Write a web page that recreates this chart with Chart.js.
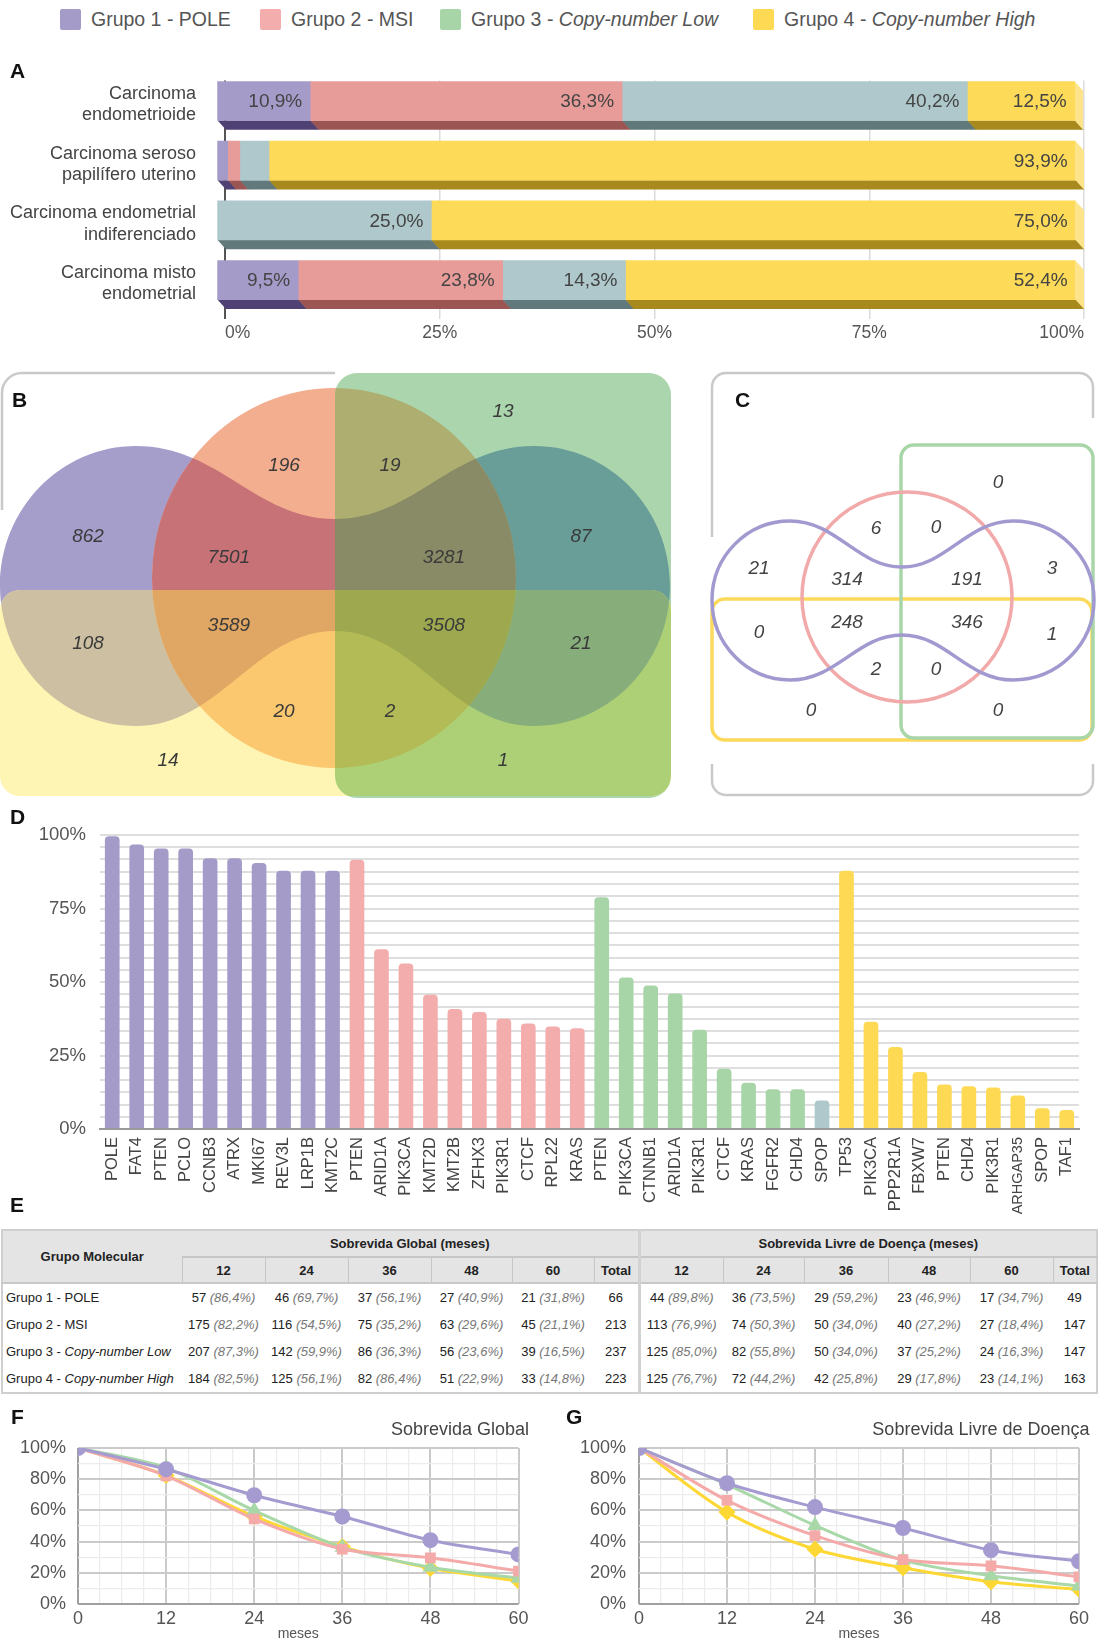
<!DOCTYPE html>
<html lang="pt">
<head>
<meta charset="utf-8">
<title>Grupos moleculares do carcinoma endometrial</title>
<script src="https://cdn.jsdelivr.net/npm/chart.js@4.4.1/dist/chart.umd.min.js"></script>
<style>
  html, body { margin: 0; padding: 0; background: #fff; }
  body { position: relative; width: 1100px; height: 1643px; overflow: hidden;
         font-family: 'Liberation Sans', Arial, Helvetica, sans-serif; color: #444; }
  canvas { position: absolute; }
  .letter { position: absolute; z-index: 3; font-weight: bold; font-size: 21px; line-height: 21px; color: #111; }
  #legend .item { position: absolute; top: 9px; height: 21px; }
  #legend .swatch { position: absolute; left: 0; top: 0; width: 21px; height: 21px; border-radius: 2px; }
  #legend .text { position: absolute; left: 31px; top: 0; font-size: 19.5px; line-height: 21px; color: #555; white-space: nowrap; }
  #tableE { position: absolute; left: 1px; top: 1229px; width: 1095px; border-collapse: collapse; table-layout: fixed;
            font-size: 13px; color: #222; border: 2px solid #cfcfcf; background: #fff; }
  #tableE th { background: #e4e4e4; font-weight: bold; text-align: center; padding: 0; color: #222; }
  #tableE tr.h1 th { height: 25px; }
  #tableE tr.h2 th { height: 24px; border-top: 2px solid #c6c6c6; border-left: 1px solid #c6c6c6; }
  #tableE thead { border-bottom: 2px solid #c8c8c8; }
  #tableE td { height: 27px; text-align: center; padding: 0; white-space: nowrap; }
  #tableE td.name { text-align: left; padding-left: 3px; }
  #tableE .sep { border-left: 3px solid #d2d2d2 !important; }
  #tableE i.p { color: #777; }
</style>
</head>
<body>
<div id="legend"></div>

<canvas id="chartA" width="1100" height="290" style="left:0;top:55px"></canvas>
<canvas id="chartB" width="690" height="450" style="left:0;top:360px"></canvas>
<canvas id="chartC" width="410" height="450" style="left:690px;top:360px"></canvas>
<canvas id="chartD" width="1100" height="425" style="left:0;top:800px"></canvas>
<table id="tableE"></table>
<canvas id="chartF" width="550" height="243" style="left:0;top:1400px"></canvas>
<canvas id="chartG" width="550" height="243" style="left:550px;top:1400px"></canvas>

<div class="letter" style="left:10px;top:60px">A</div>
<div class="letter" style="left:12px;top:389px">B</div>
<div class="letter" style="left:735px;top:389px">C</div>
<div class="letter" style="left:10px;top:806px">D</div>
<div class="letter" style="left:10px;top:1194px">E</div>
<div class="letter" style="left:11px;top:1406px">F</div>
<div class="letter" style="left:566px;top:1406px">G</div>

<script>
// ---------- data ----------
const groupNames = ['Grupo 1 - POLE', 'Grupo 2 - MSI', 'Grupo 3 - Copy-number Low', 'Grupo 4 - Copy-number High'];

// A: share of each molecular group within each histological type (%)
const histotypes = [['Carcinoma', 'endometrioide'], ['Carcinoma seroso', 'papilífero uterino'],
                    ['Carcinoma endometrial', 'indiferenciado'], ['Carcinoma misto', 'endometrial']];
const sharePOLE   = [10.9, 1.3, 0, 9.5];
const shareMSI    = [36.3, 1.4, 0, 23.8];
const shareCNLow  = [40.2, 3.4, 25.0, 14.3];
const shareCNHigh = [12.5, 93.9, 75.0, 52.4];
const shareTicks  = [0, 25, 50, 75, 100];

// B and C: Venn region counts, index = membership mask - 1
// (bit 0 = Grupo 1, bit 1 = Grupo 2, bit 2 = Grupo 3, bit 3 = Grupo 4)
const vennMasks   = [1, 2, 3, 4, 5, 6, 7, 8, 9, 10, 11, 12, 13, 14, 15];
const vennBCounts = [862, 196, 7501, 13, 87, 19, 3281, 14, 108, 20, 3589, 1, 21, 2, 3508];
const vennCCounts = [21, 6, 314, 0, 3, 0, 191, 0, 0, 2, 248, 0, 1, 0, 346];

// D: most frequently mutated genes per group (%)
const geneLabels = ['POLE', 'FAT4', 'PTEN', 'PCLO', 'CCNB3', 'ATRX', 'MKI67', 'REV3L', 'LRP1B', 'KMT2C',
                    'PTEN', 'ARID1A', 'PIK3CA', 'KMT2D', 'KMT2B', 'ZFHX3', 'PIK3R1', 'CTCF', 'RPL22', 'KRAS',
                    'PTEN', 'PIK3CA', 'CTNNB1', 'ARID1A', 'PIK3R1', 'CTCF', 'KRAS', 'FGFR2', 'CHD4', 'SPOP',
                    'TP53', 'PIK3CA', 'PPP2R1A', 'FBXW7', 'PTEN', 'CHD4', 'PIK3R1', 'ARHGAP35', 'SPOP', 'TAF1'];
const geneFreq = [99.6, 96.8, 95.4, 95.4, 92.1, 92.1, 90.5, 87.8, 87.8, 87.8,
                  91.6, 61.1, 56.3, 45.7, 40.8, 39.8, 37.5, 35.9, 34.9, 34.3,
                  78.8, 51.5, 48.8, 46.1, 33.8, 20.5, 15.7, 13.5, 13.5, 9.7,
                  87.8, 36.5, 27.9, 19.4, 15.1, 14.5, 14.1, 11.4, 7.1, 6.5];
const geneGroup = [1, 1, 1, 1, 1, 1, 1, 1, 1, 1,
                   2, 2, 2, 2, 2, 2, 2, 2, 2, 2,
                   3, 3, 3, 3, 3, 3, 3, 3, 3, 3,
                   4, 4, 4, 4, 4, 4, 4, 4, 4, 4];
const freqTicks = [0, 25, 50, 75, 100];

// E: survival table
const survMonths = [12, 24, 36, 48, 60];
const osCounts = [[57, 46, 37, 27, 21], [175, 116, 75, 63, 45], [207, 142, 86, 56, 39], [184, 125, 82, 51, 33]];
const osPct    = [[86.4, 69.7, 56.1, 40.9, 31.8], [82.2, 54.5, 35.2, 29.6, 21.1], [87.3, 59.9, 36.3, 23.6, 16.5], [82.5, 56.1, 86.4, 22.9, 14.8]];
const osTotal  = [66, 213, 237, 223];
const dfsCounts = [[44, 36, 29, 23, 17], [113, 74, 50, 40, 27], [125, 82, 50, 37, 24], [125, 72, 42, 29, 23]];
const dfsPct    = [[89.8, 73.5, 59.2, 46.9, 34.7], [76.9, 50.3, 34.0, 27.2, 18.4], [85.0, 55.8, 34.0, 25.2, 16.3], [76.7, 44.2, 25.8, 17.8, 14.1]];
const dfsTotal  = [49, 147, 147, 163];

// F and G: survival curves (%)
const curveMonths = [0, 12, 24, 36, 48, 60];
const osCurves  = [[100, 86.4, 69.7, 56.1, 40.9, 31.8], [100, 82.2, 54.5, 35.2, 29.6, 21.1],
                   [100, 87.3, 59.9, 36.3, 23.6, 16.5], [100, 82.5, 56.1, 36.8, 22.9, 14.8]];
const dfsCurves = [[100, 77.4, 62.1, 48.7, 34.5, 27.4], [100, 66.4, 43.8, 28.5, 24.5, 17.4],
                   [100, 76.6, 50.4, 28.1, 18.1, 11.5], [100, 58.9, 35.1, 23.2, 14.3, 9.4]];

// ---------- styles ----------
const groupColors = ['#a59bc9', '#f4adad', '#a8d5a8', '#fdd954'];
const typeFront   = ['#a59bc9', '#e89c99', '#aec8cc', '#fdda57'];
const typeShade   = ['#4f4173', '#9b5654', '#62797b', '#a8891d'];
const typeSide    = '#fde48a';
const lineColors  = ['#a59bd0', '#f5aaaa', '#a8d8a8', '#fdd835'];
const markerStyle = ['circle', 'rect', 'triangle', 'rectRot'];
const markerSize  = [6.5, 5.5, 6, 6.5];

Chart.defaults.font.family = "'Liberation Sans', Arial, Helvetica, sans-serif";
Chart.defaults.color = '#555';
Chart.defaults.animation = false;
Chart.defaults.responsive = false;
Chart.defaults.plugins.legend.display = false;
Chart.defaults.plugins.tooltip.enabled = false;

const pctText = v => v.toFixed(1).replace('.', ',') + '%';
// keep tick-label overflow from shrinking the plot area
const noScalePadding = s => { s.paddingTop = 0; s.paddingBottom = 0; s.paddingLeft = 0; s.paddingRight = 0; };

// ---------- legend ----------
(function buildLegend() {
  const lefts = [60, 260, 440, 753];
  const box = document.getElementById('legend');
  groupNames.forEach((name, i) => {
    const item = document.createElement('div');
    item.className = 'item';
    item.style.left = lefts[i] + 'px';
    const sw = document.createElement('div');
    sw.className = 'swatch';
    sw.style.background = groupColors[i];
    const tx = document.createElement('div');
    tx.className = 'text';
    const cut = name.indexOf('Copy-number');
    if (cut >= 0) {
      tx.textContent = name.slice(0, cut);
      const it = document.createElement('i');
      it.textContent = name.slice(cut);
      tx.appendChild(it);
    } else {
      tx.textContent = name;
    }
    item.appendChild(sw);
    item.appendChild(tx);
    box.appendChild(item);
  });
})();

// ---------- A: stacked 3D bars ----------
function depthPlugin(dx, dy) {
  return {
    id: 'depth3d',
    beforeDatasetsDraw(chart) {
      const ctx = chart.ctx;
      const n = chart.data.datasets.length;
      chart.data.datasets.forEach((ds, di) => {
        const meta = chart.getDatasetMeta(di);
        meta.data.forEach((bar, i) => {
          if (!ds.data[i]) return;
          const p = bar.getProps(['x', 'base', 'y', 'height'], true);
          const left = Math.min(p.x, p.base), right = Math.max(p.x, p.base);
          const top = p.y - p.height / 2, bottom = p.y + p.height / 2;
          ctx.fillStyle = typeShade[di];
          ctx.beginPath();
          ctx.moveTo(left - dx, bottom - dy);
          ctx.lineTo(right - dx + 0.5, bottom - dy);
          ctx.lineTo(right + 0.5, bottom);
          ctx.lineTo(left, bottom);
          ctx.closePath();
          ctx.fill();
          if (di === n - 1) {
            ctx.fillStyle = typeSide;
            ctx.beginPath();
            ctx.moveTo(right - dx, top - dy);
            ctx.lineTo(right, top);
            ctx.lineTo(right, bottom);
            ctx.lineTo(right - dx, bottom - dy);
            ctx.closePath();
            ctx.fill();
          }
        });
      });
      ctx.save();
      ctx.translate(-dx, -dy);
    },
    afterDatasetsDraw(chart) {
      const ctx = chart.ctx;
      ctx.restore();
      ctx.save();
      ctx.font = "19px 'Liberation Sans', Arial, sans-serif";
      ctx.fillStyle = '#444';
      ctx.textAlign = 'right';
      ctx.textBaseline = 'middle';
      chart.data.datasets.forEach((ds, di) => {
        chart.getDatasetMeta(di).data.forEach((bar, i) => {
          const v = ds.data[i];
          if (v < 5) return;
          const p = bar.getProps(['x', 'y'], true);
          ctx.fillText(pctText(v), p.x - dx - 8, p.y - dy + 1);
        });
      });
      ctx.restore();
    }
  };
}

new Chart(document.getElementById('chartA'), {
  type: 'bar',
  data: {
    labels: histotypes,
    datasets: [sharePOLE, shareMSI, shareCNLow, shareCNHigh].map((vals, i) => ({
      label: groupNames[i], data: vals, backgroundColor: typeFront[i], barThickness: 39, borderWidth: 0,
      inflateAmount: c => (c.raw ? 0.33 : 0)
    }))
  },
  options: {
    indexAxis: 'y',
    layout: { padding: { top: 25.5, right: 16, left: 0, bottom: 0 } },
    scales: {
      x: {
        stacked: true, min: 0, max: 100,
        border: { display: false },
        grid: {
          drawTicks: false,
          color: c => c.tick.value === 0 ? '#555' : '#dcdcdc',
          lineWidth: c => c.tick.value === 0 ? 2 : 1.5
        },
        afterBuildTicks: s => { s.ticks = shareTicks.map(v => ({ value: v })); },
        ticks: { callback: v => v + '%', align: 'inner', padding: 3, color: '#555', font: { size: 17.5 }, maxRotation: 0, autoSkip: false },
        afterFit: s => { s.height = 25.6; noScalePadding(s); }
      },
      y: {
        stacked: true,
        border: { display: false },
        grid: { display: false, drawTicks: false },
        ticks: { color: '#444', font: { size: 18, lineHeight: 1.17 }, padding: 29, labelOffset: -5.8, autoSkip: false },
        afterFit: s => { s.width = 225; noScalePadding(s); }
      }
    }
  },
  plugins: [depthPlugin(8.4, 9.4)]
});

// ---------- B and C: Venn diagrams ----------
function roundRectPath(m, x0, y0, x1, y1, r) {
  const a = m(x0, y0), b = m(x1, y1);
  const l = a[0], t = a[1], rr = b[0], bb = b[1];
  const p = new Path2D();
  p.moveTo(l + r, t);
  p.arcTo(rr, t, rr, bb, r);
  p.arcTo(rr, bb, l, bb, r);
  p.arcTo(l, bb, l, t, r);
  p.arcTo(l, t, rr, t, r);
  p.closePath();
  return p;
}
function ellipsePath(m, cx, cy, rx, ry) {
  const c = m(cx, cy);
  const p = new Path2D();
  p.ellipse(c[0], c[1], rx, ry, 0, 0, Math.PI * 2);
  return p;
}
function dumbbellPath(m, g) {
  const { L, R, cy, T, B, M, WT, WB, lx, rx } = g;
  const k = 0.5523;
  const s1 = (M - lx) * 0.42, s2 = (M - lx) * 0.4;
  const s1r = (rx - M) * 0.42, s2r = (rx - M) * 0.4;
  const p = new Path2D();
  const mv = (x, y) => { const q = m(x, y); p.moveTo(q[0], q[1]); };
  const cb = (x1, y1, x2, y2, x, y) => {
    const a = m(x1, y1), b = m(x2, y2), c = m(x, y);
    p.bezierCurveTo(a[0], a[1], b[0], b[1], c[0], c[1]);
  };
  mv(L, cy);
  cb(L, cy - (cy - T) * k, lx - (lx - L) * k, T, lx, T);
  cb(lx + s1, T, M - s2, WT, M, WT);
  cb(M + s2r, WT, rx - s1r, T, rx, T);
  cb(rx + (R - rx) * k, T, R, cy - (cy - T) * k, R, cy);
  cb(R, cy + (B - cy) * k, rx + (R - rx) * k, B, rx, B);
  cb(rx - s1r, B, M + s2r, WB, M, WB);
  cb(M - s2, WB, lx + s1, B, lx, B);
  cb(lx - (lx - L) * k, B, L, cy + (B - cy) * k, L, cy);
  p.closePath();
  return p;
}
function vennPlugin(paint, font, color) {
  return {
    id: 'vennShapes',
    beforeDatasetsDraw(chart) {
      const m = (x, y) => [chart.scales.x.getPixelForValue(x), chart.scales.y.getPixelForValue(y)];
      chart.ctx.save();
      paint(chart.ctx, m, chart);
      chart.ctx.restore();
    },
    afterDatasetsDraw(chart) {
      const ctx = chart.ctx;
      const ds = chart.data.datasets[0];
      ctx.save();
      ctx.font = font;
      ctx.fillStyle = color;
      ctx.textAlign = 'center';
      ctx.textBaseline = 'middle';
      chart.getDatasetMeta(0).data.forEach((pt, i) => ctx.fillText(String(ds.data[i].n), pt.x, pt.y));
      ctx.restore();
    }
  };
}
function vennChart(id, counts, spots, xRange, yRange, plugin) {
  return new Chart(document.getElementById(id), {
    type: 'scatter',
    data: {
      datasets: [{
        data: vennMasks.map((mask, i) => ({ x: spots[mask][0], y: spots[mask][1], n: counts[i] })),
        pointRadius: 0
      }]
    },
    options: {
      layout: { padding: 0 },
      scales: {
        x: { type: 'linear', min: xRange[0], max: xRange[1], display: false },
        y: { type: 'linear', min: yRange[0], max: yRange[1], reverse: true, display: false }
      }
    },
    plugins: [plugin]
  });
}

// label anchors (page coordinates) for each membership region
const vennBSpots = { 4: [503, 412], 2: [284, 466], 6: [390, 466], 1: [88, 537], 3: [229, 558], 7: [444, 558],
  5: [581, 537], 9: [88, 644], 11: [229, 626], 15: [444, 626], 13: [581, 644], 10: [284, 712], 14: [390, 712],
  8: [168, 761], 12: [503, 761] };
const vennCSpots = { 4: [998, 483], 2: [876, 529], 6: [936, 528], 1: [759, 569], 3: [847, 580], 7: [967, 580],
  5: [1052, 569], 9: [759, 633], 11: [847, 623], 15: [967, 623], 13: [1052, 635], 10: [876, 670], 14: [936, 670],
  8: [811, 711], 12: [998, 711] };

const vennBFill = { 1: '#a59dca', 2: '#f3ad8f', 3: '#c77277', 4: '#abd5ad', 5: '#689d98', 6: '#adae6f', 7: '#898b67',
  8: '#fef5b4', 9: '#cdbfa2', 10: '#fbc870', 11: '#dfa664', 12: '#add077', 13: '#87ae7a', 14: '#b2bb55', 15: '#9da84f' };

function paintVennB(ctx, m, chart) {
  const W = chart.width, H = chart.height;
  // panel frame
  const a = m(2, 510), b = m(2, 373), c = m(335, 373);
  ctx.strokeStyle = '#c9c9c9';
  ctx.lineWidth = 2.5;
  ctx.beginPath();
  ctx.moveTo(a[0], a[1]);
  ctx.lineTo(b[0], b[1] + 20);
  ctx.arcTo(b[0], b[1], b[0] + 20, b[1], 20);
  ctx.lineTo(c[0], c[1]);
  ctx.stroke();

  const shapes = [
    dumbbellPath(m, { L: 0, R: 670, cy: 586, T: 446, B: 726, M: 335, WT: 519, WB: 631, lx: 136, rx: 534 }),
    ellipsePath(m, 334, 578, 182, 190),
    roundRectPath(m, 335, 373, 671, 798, 22),
    roundRectPath(m, 0, 590, 671, 796, 20)
  ];
  const bits = x => x.toString(2).split('1').length - 1;
  const order = vennMasks.slice().sort((p, q) => bits(p) - bits(q) || p - q);
  order.forEach(mask => {
    ctx.save();
    shapes.forEach((s, i) => { if (mask & (1 << i)) ctx.clip(s); });
    ctx.fillStyle = vennBFill[mask];
    ctx.fillRect(0, 0, W, H);
    ctx.restore();
  });
}

function paintVennC(ctx, m) {
  // panel frame, interrupted around the diagram
  ctx.strokeStyle = '#c9c9c9';
  ctx.lineWidth = 2.5;
  const L = m(712, 0)[0], R = m(1093, 0)[0], T = m(0, 373)[1], B = m(0, 795)[1], r = 14;
  const y537 = m(0, 537)[1], y418 = m(0, 418)[1], y764 = m(0, 764)[1];
  ctx.beginPath();
  ctx.moveTo(L, y537);
  ctx.lineTo(L, T + r);
  ctx.arcTo(L, T, L + r, T, r);
  ctx.lineTo(R - r, T);
  ctx.arcTo(R, T, R, T + r, r);
  ctx.lineTo(R, y418);
  ctx.moveTo(L, y764);
  ctx.lineTo(L, B - r);
  ctx.arcTo(L, B, L + r, B, r);
  ctx.lineTo(R - r, B);
  ctx.arcTo(R, B, R, B - r, r);
  ctx.lineTo(R, y764);
  ctx.stroke();

  ctx.lineWidth = 3.5;
  ctx.strokeStyle = '#fcd95b';
  ctx.stroke(roundRectPath(m, 712, 599, 1092, 740, 13));
  ctx.strokeStyle = '#a9d6a9';
  ctx.stroke(roundRectPath(m, 901, 445, 1093, 738, 13));
  ctx.strokeStyle = '#f2a9a9';
  ctx.stroke(ellipsePath(m, 907, 597, 105, 105));
  ctx.strokeStyle = '#a19ad0';
  ctx.stroke(dumbbellPath(m, { L: 712, R: 1094, cy: 600, T: 521, B: 680, M: 902, WT: 567, WB: 635, lx: 790, rx: 1013 }));
}

vennChart('chartB', vennBCounts, vennBSpots, [0, 690], [360, 810],
  vennPlugin(paintVennB, "italic 19px 'Liberation Sans', Arial, sans-serif", '#3a3a3a'));
vennChart('chartC', vennCCounts, vennCSpots, [690, 1100], [360, 810],
  vennPlugin(paintVennC, "italic 19px 'Liberation Sans', Arial, sans-serif", '#444'));

// ---------- D: gene mutation frequency ----------
const barColor = i => (geneGroup[i] === 3 && geneLabels[i] === 'SPOP') ? typeFront[2] : groupColors[geneGroup[i] - 1];
const freqGrid = Array.from({ length: 25 }, (_, i) => (i * 25) / 6);

new Chart(document.getElementById('chartD'), {
  type: 'bar',
  data: {
    labels: geneLabels,
    datasets: [{
      data: geneFreq,
      backgroundColor: geneFreq.map((_, i) => barColor(i)),
      categoryPercentage: 1, barPercentage: 0.6,
      borderRadius: { topLeft: 4, topRight: 4, bottomLeft: 0, bottomRight: 0 },
      borderSkipped: 'start'
    }]
  },
  options: {
    layout: { padding: { top: 35, right: 21, left: 0, bottom: 0 } },
    scales: {
      x: {
        grid: { display: false, drawTicks: false },
        border: { color: '#9a9a9a', width: 2 },
        ticks: {
          minRotation: 90, maxRotation: 90, autoSkip: false, color: '#444', padding: 8,
          font: c => ({ size: (c.tick && c.tick.label && c.tick.label.length > 7) ? 14.5 : 16.5 })
        },
        afterFit: s => { s.height = 96; noScalePadding(s); }
      },
      y: {
        min: 0, max: 100,
        afterBuildTicks: s => { s.ticks = freqGrid.map(v => ({ value: v })); },
        border: { display: false },
        grid: { drawTicks: false, color: c => c.tick.value === 0 ? '#9a9a9a' : '#dedede', lineWidth: 2 },
        ticks: {
          autoSkip: false, color: '#555', font: { size: 18.5 }, padding: 14,
          callback: v => {
            const t = freqTicks.find(f => Math.abs(f - v) < 1e-6);
            return t === undefined ? '' : t + '%';
          }
        },
        afterFit: s => { s.width = 100; noScalePadding(s); }
      }
    }
  }
});

// ---------- E: survival table ----------
(function buildTable() {
  const widths = [180, 83, 83, 83, 81, 82, 45, 84, 81, 84, 82, 83, 44];
  const t = document.getElementById('tableE');
  let html = '<colgroup>' + widths.map(w => `<col style="width:${w}px">`).join('') + '</colgroup>';
  html += '<thead><tr class="h1"><th rowspan="2">Grupo Molecular</th>' +
          '<th colspan="6">Sobrevida Global (meses)</th>' +
          '<th colspan="6" class="sep">Sobrevida Livre de Doença (meses)</th></tr>';
  html += '<tr class="h2">' +
          survMonths.map(m => `<th>${m}</th>`).join('') + '<th>Total</th>' +
          survMonths.map((m, i) => `<th${i === 0 ? ' class="sep"' : ''}>${m}</th>`).join('') + '<th>Total</th></tr></thead><tbody>';
  const nameHtml = name => {
    const cut = name.indexOf('Copy-number');
    return cut >= 0 ? name.slice(0, cut) + '<i>' + name.slice(cut) + '</i>' : name;
  };
  groupNames.forEach((name, g) => {
    html += '<tr><td class="name">' + nameHtml(name) + '</td>';
    survMonths.forEach((_, j) => { html += `<td>${osCounts[g][j]} <i class="p">(${pctText(osPct[g][j])})</i></td>`; });
    html += `<td>${osTotal[g]}</td>`;
    survMonths.forEach((_, j) => {
      html += `<td${j === 0 ? ' class="sep"' : ''}>${dfsCounts[g][j]} <i class="p">(${pctText(dfsPct[g][j])})</i></td>`;
    });
    html += `<td>${dfsTotal[g]}</td></tr>`;
  });
  html += '</tbody>';
  t.innerHTML = html;
})();

// ---------- F and G: survival curves ----------
const monthGrid = Array.from({ length: 21 }, (_, i) => i * 3);
const pctGrid = Array.from({ length: 11 }, (_, i) => i * 10);

function cornerTitle(text, dx, y) {
  return {
    id: 'cornerTitle',
    afterDraw(chart) {
      const ctx = chart.ctx;
      ctx.save();
      ctx.font = "18px 'Liberation Sans', Arial, sans-serif";
      ctx.fillStyle = '#444';
      ctx.textAlign = 'right';
      ctx.textBaseline = 'middle';
      ctx.fillText(text, chart.chartArea.right + dx, y);
      ctx.restore();
    }
  };
}

function survivalChart(id, curves, title, yWidth, yPad, padRight) {
  return new Chart(document.getElementById(id), {
    type: 'line',
    data: {
      datasets: curves.map((c, i) => ({
        label: groupNames[i],
        data: curveMonths.map((t, j) => ({ x: t, y: c[j] })),
        borderColor: lineColors[i],
        backgroundColor: lineColors[i],
        pointBackgroundColor: lineColors[i],
        pointBorderColor: lineColors[i],
        pointStyle: markerStyle[i],
        pointRadius: markerSize[i],
        borderWidth: 3,
        tension: 0.3,
        fill: false
      }))
    },
    options: {
      layout: { padding: { top: 48, right: padRight, left: 0, bottom: 0 } },
      scales: {
        x: {
          type: 'linear', min: 0, max: 60,
          afterBuildTicks: s => { s.ticks = monthGrid.map(v => ({ value: v })); },
          border: { display: false },
          grid: {
            drawTicks: false,
            color: c => c.tick.value === 0 ? '#a0a0a0' : (c.tick.value % 12 === 0 ? '#cacaca' : '#ececec'),
            lineWidth: c => c.tick.value % 12 === 0 ? 2 : 1.2
          },
          ticks: { autoSkip: false, maxRotation: 0, color: '#555', font: { size: 18 }, padding: 4,
                   callback: v => v % 12 === 0 ? String(v) : '' },
          title: { display: true, text: 'meses', color: '#555', font: { size: 14 }, padding: 0 },
          afterFit: s => { s.height = 39; noScalePadding(s); }
        },
        y: {
          min: 0, max: 100,
          afterBuildTicks: s => { s.ticks = pctGrid.map(v => ({ value: v })); },
          border: { display: false },
          grid: {
            drawTicks: false,
            color: c => c.tick.value === 0 ? '#a0a0a0' : (c.tick.value % 20 === 0 ? '#cacaca' : '#ececec'),
            lineWidth: c => c.tick.value % 20 === 0 ? 2 : 1.2
          },
          ticks: { autoSkip: false, color: '#555', font: { size: 18 }, padding: yPad,
                   callback: v => v % 20 === 0 ? v + '%' : '' },
          afterFit: s => { s.width = yWidth; noScalePadding(s); }
        }
      }
    },
    plugins: [cornerTitle(title, 10.5, 30)]
  });
}

survivalChart('chartF', osCurves, 'Sobrevida Global', 78, 12, 31.5);
survivalChart('chartG', dfsCurves, 'Sobrevida Livre de Doença', 89, 13, 21);
</script>
</body>
</html>
